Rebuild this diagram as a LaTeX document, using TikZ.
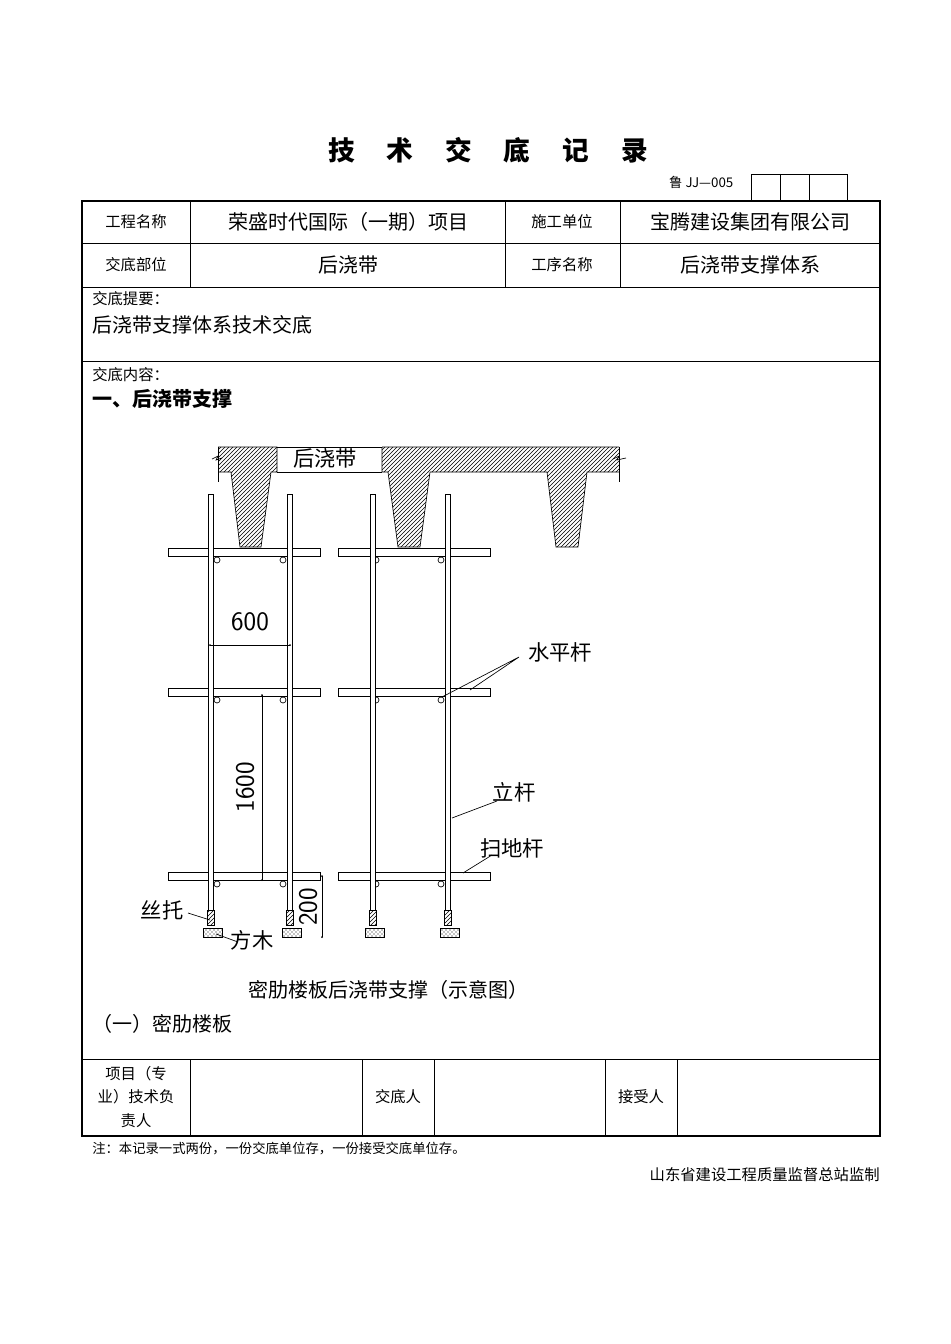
\documentclass[tikz,border=0pt]{standalone}
\usepackage{fontspec}
\setmainfont{Liberation Sans}
\newfontfamily\cjk{Noto Sans CJK SC}
\usetikzlibrary{patterns}
\begin{document}
\begin{tikzpicture}[x=0.75pt,y=-0.75pt,
  lbl/.style={font=\cjk\fontsize{11.5}{13}\selectfont,inner sep=0},
  val/.style={font=\cjk\fontsize{15}{17}\selectfont,inner sep=0},
  hand/.style={font=\cjk\fontsize{16}{18}\selectfont,inner sep=0},
  thin/.style={line width=0.5pt},
  conc/.style={draw,thin,pattern=north east lines},
  bar/.style={draw,thin,fill=white},
  lead/.style={line width=0.5pt}]
\useasboundingbox (0,0) rectangle (950,1344);
% title
\node[font=\cjk\bfseries\fontsize{20}{22}\selectfont] (title) at (488,150) {技\hspace{1.2em}术\hspace{1.2em}交\hspace{1.2em}底\hspace{1.2em}记\hspace{1.2em}录};
\node[font=\cjk\fontsize{10}{12}\selectfont,anchor=east] (code) at (738,182) {鲁 JJ—005};
\draw[thin] (751,174) rectangle (847,201) (780,174)--(780,201) (809,174)--(809,201);
% table
\draw[line width=1pt] (82,201) rectangle (880,1136);
\draw[thin] (82,243)--(880,243) (82,287)--(880,287) (82,361)--(880,361) (82,1059)--(880,1059);
\draw[thin] (190,201)--(190,287) (505,201)--(505,287) (620,201)--(620,287);
\draw[thin] (190,1059)--(190,1136) (362,1059)--(362,1136) (434,1059)--(434,1136) (605,1059)--(605,1136) (677,1059)--(677,1136);
\node[lbl] (a1) at (136,222) {工程名称};
\node[val] (a2) at (348,222) {荣盛时代国际（一期）项目};
\node[lbl] (a3) at (562,222) {施工单位};
\node[val] (a4) at (750,222) {宝腾建设集团有限公司};
\node[lbl] (b1) at (136,265) {交底部位};
\node[val] (b2) at (348,265) {后浇带};
\node[lbl] (b3) at (562,265) {工序名称};
\node[val] (b4) at (750,265) {后浇带支撑体系};
\node[lbl,anchor=west] (c1) at (92,299) {交底提要：};
\node[val,anchor=west] (c2) at (92,325) {后浇带支撑体系技术交底};
\node[lbl,anchor=west] (d1) at (92,375) {交底内容：};
\node[font=\cjk\bfseries\fontsize{15}{17}\selectfont,inner sep=0,anchor=west] (d2) at (92,399) {一、后浇带支撑};
\node[lbl,align=center,font=\cjk\fontsize{11.5}{17.5}\selectfont] (e1) at (136,1097) {项目（专\\业）技术负\\责人};
\node[lbl] (e2) at (398,1097) {交底人};
\node[lbl] (e3) at (641,1097) {接受人};
\node[lbl,anchor=west,font=\cjk\fontsize{10}{12}\selectfont] (n1) at (92,1149) {注：本记录一式两份，一份交底单位存，一份接受交底单位存。};
\node[lbl,anchor=east] (n2) at (880,1175) {山东省建设工程质量监督总站监制};
% slab
\fill[pattern=north east lines] (218,447) rectangle (277,472) (382,447) rectangle (619,472);
\fill[pattern=north east lines] (231,472)--(271,472)--(261,547)--(240,547)--cycle;
\fill[pattern=north east lines] (388,472)--(430,472)--(420,547)--(398,547)--cycle;
\fill[pattern=north east lines] (547,472)--(587,472)--(578,547)--(556,547)--cycle;
\draw[thin] (218,447)--(277,447)--(277,472)--(271,472)--(261,547)--(240,547)--(231,472)--(218,472);
\draw[thin] (277,447)--(382,447) (277,472)--(382,472);
\draw[thin] (382,447)--(619,447) (382,447)--(382,472)--(388,472)--(398,547)--(420,547)--(430,472)--(547,472)--(556,547)--(578,547)--(587,472)--(619,472);
\draw[thin] (218,447)--(218,482) (619,447)--(619,482);
\draw[thin] (212,459)--(218,456)--(216,460)--(222,458) (613,459)--(619,456)--(617,460)--(626,458);
\node[hand] (hjd) at (325,458) {后浇带};
% horizontal bars
\foreach \y in {548,688,872}{
  \draw[bar] (168,\y) rectangle (320,\y+8);
  \draw[bar] (338,\y) rectangle (490,\y+8);
  \foreach \x in {217,283,376,441}{\draw[thin] (\x,\y+12) circle (3);}
}
% poles
\foreach \x in {208,287,370,445}{
  \fill[white] (\x,494) rectangle (\x+5,910);
  \draw[thin] (\x,494)--(\x,910) (\x+5,494)--(\x+5,910) (\x,494)--(\x+5,494) (\x,910)--(\x+5,910);
  \fill[black!70,pattern=north east lines] (\x-1,910) rectangle (\x+6,925);
  \draw[thin] (\x-1,910) rectangle (\x+6,925);
  \draw[thin,pattern=crosshatch dots] (\x-5,928) rectangle (\x+14,937);
  \draw[thin] (\x-5,928)--(\x+14,928);
}
% redraw bars crossing poles on outer part (bars above poles lines)
% dimensions
\draw[line width=0.7pt] (210,645)--(290,645);
\fill (210,645) circle (1) (290,645) circle (1);
\node[font=\fontsize{20}{22}\selectfont\sffamily,inner sep=0] (d600) at (250,622) {600};
\draw[line width=0.6pt] (262,695)--(262,880);
\fill (262,695) circle (1) (262,880) circle (1);
\node[font=\fontsize{20}{22}\selectfont\sffamily,inner sep=0,rotate=90] (d1600) at (245,787) {1600};
\draw[line width=0.6pt] (322,876)--(322,937);
\fill (322,876) circle (1) (322,937) circle (1);
\node[font=\fontsize{20}{22}\selectfont\sffamily,inner sep=0,rotate=90] (d200) at (308,907) {200};
% labels
\node[hand] (sp) at (560,652) {水平杆};
\coordinate (sp0) at (519,657);
\draw[lead] (sp0)--(442,697) (sp0)--(470,690);
\node[hand] (lg) at (514,792) {立杆};
\draw[lead] (497,801)--(452,818);
\node[hand] (sd) at (512,848) {扫地杆};
\draw[lead] (492,855)--(463,873);
\node[hand] (st) at (162,910) {丝托};
\draw[lead] (188,913)--(210,920);
\node[hand] (fm) at (252,940) {方木};
\draw[lead] (216,934)--(238,942);
\node[val] (cap) at (388,990) {密肋楼板后浇带支撑（示意图）};
\node[val,anchor=west] (sub) at (92,1024) {（一）密肋楼板};
\end{tikzpicture}
\end{document}
